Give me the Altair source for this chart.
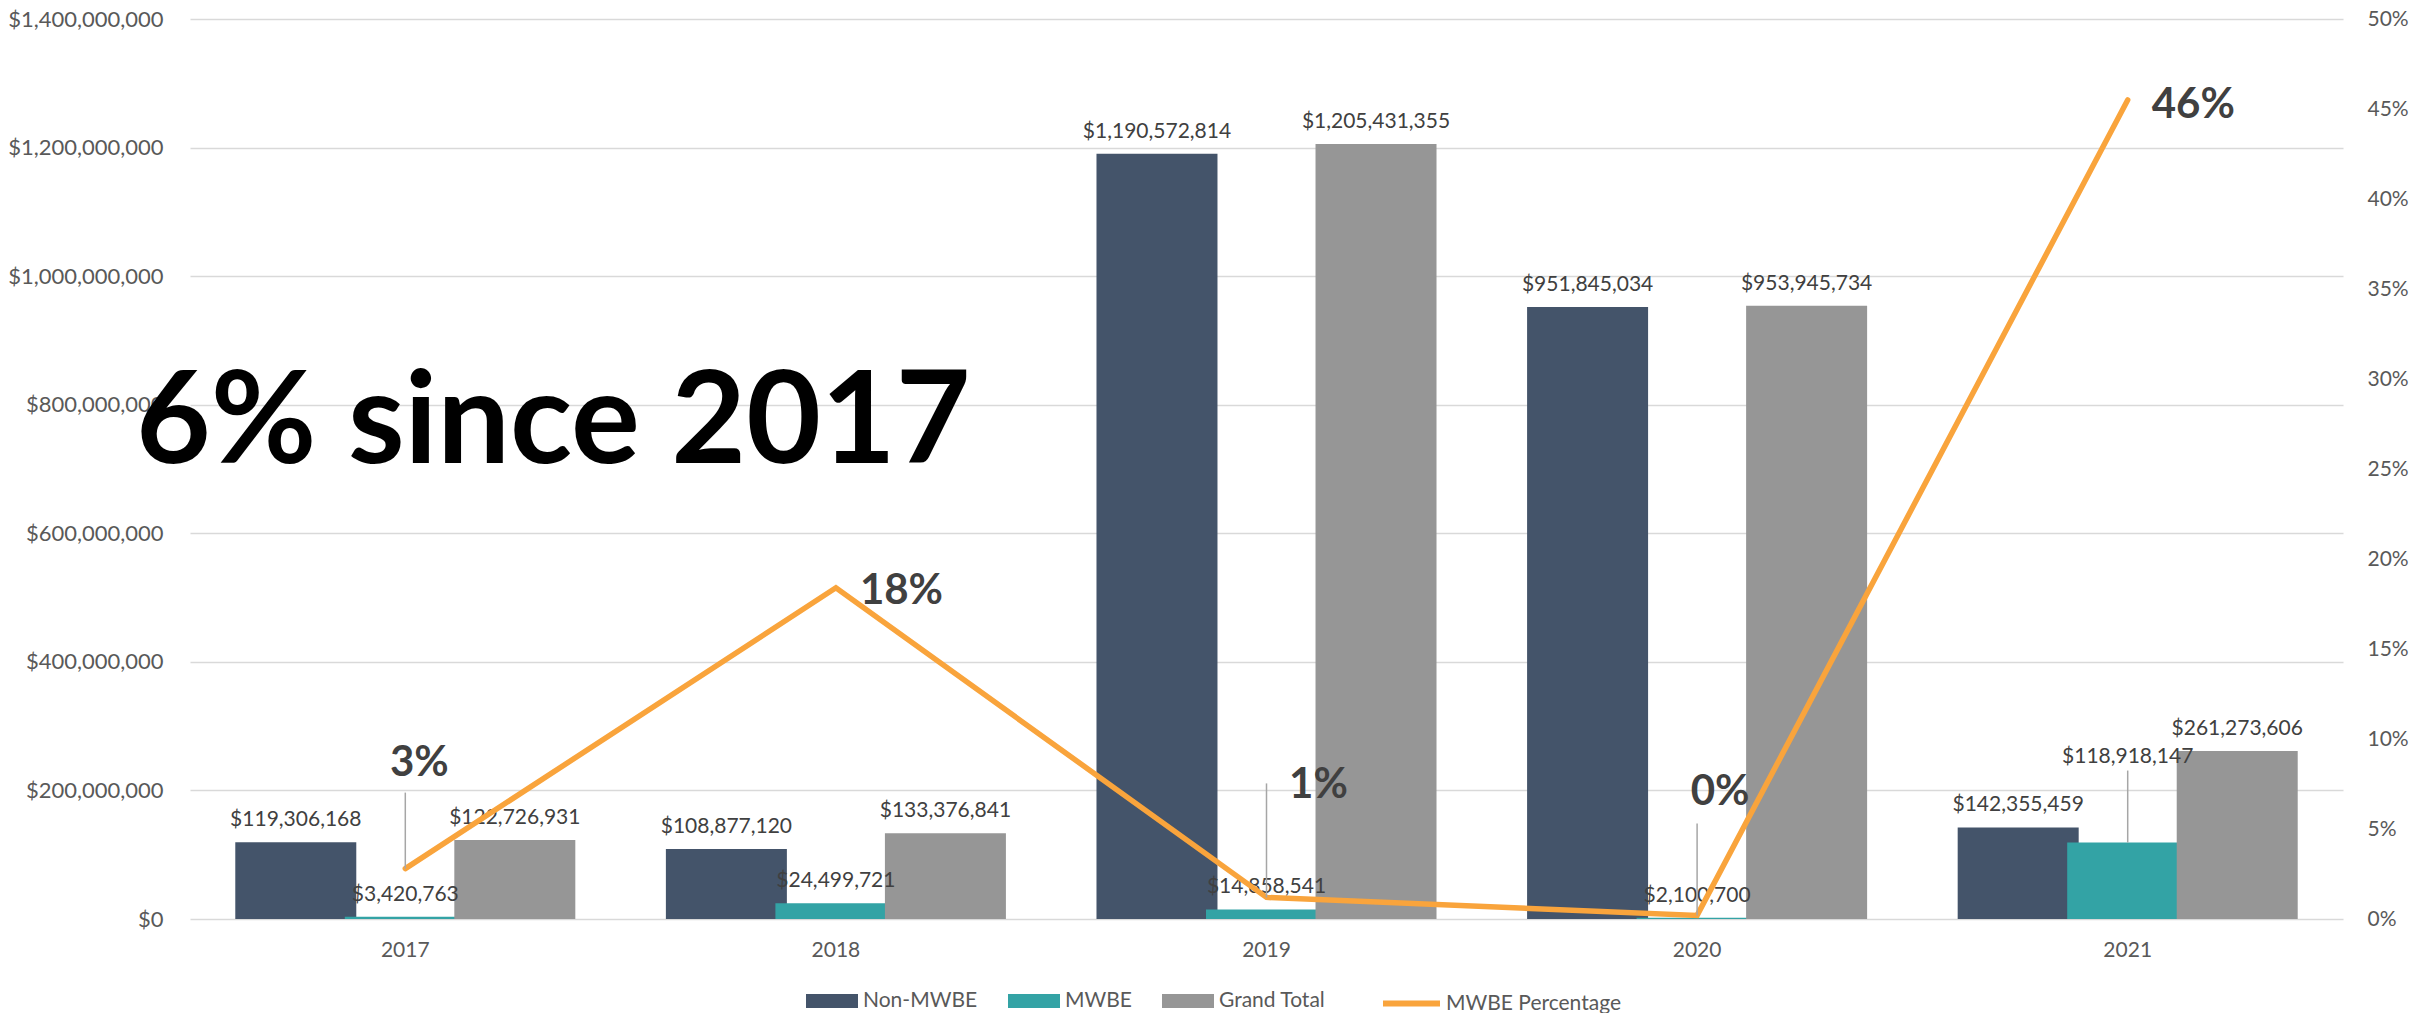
import altair as alt
import pandas as pd

# ---- data ----
years = ["2017", "2018", "2019", "2020", "2021"]
series = ["Non-MWBE", "MWBE", "Grand Total"]
non_mwbe = [119306168, 108877120, 1190572814, 951845034, 142355459]
mwbe = [3420763, 24499721, 14858541, 2100700, 118918147]
grand_total = [122726931, 133376841, 1205431355, 953945734, 261273606]
mwbe_pct = [0.028, 0.184, 0.012, 0.002, 0.455]
pct_labels = ["3%", "18%", "1%", "0%", "46%"]
line_name = "MWBE Percentage"
headline = "6% since 2017"
left_ticks = [0, 200000000, 400000000, 600000000, 800000000, 1000000000, 1200000000, 1400000000]
right_ticks = [0, 0.05, 0.10, 0.15, 0.20, 0.25, 0.30, 0.35, 0.40, 0.45, 0.50]

# ---- styles ----
colors = ["#44546A", "#33A3A5", "#969696"]
line_color = "#F9A43C"
FONT = "Lato"
W, H = 2153, 900
PX_PCT = 0.5 / H          # one pixel in right-axis units
PX_VAL = 1.4e9 / H        # one pixel in left-axis units

bars_df = pd.DataFrame(
    [
        {"year": y, "series": s, "value": v, "label": f"${v:,}"}
        for s, vals in zip(series, [non_mwbe, mwbe, grand_total])
        for y, v in zip(years, vals)
    ]
)
pct_df = pd.DataFrame({"year": years, "pct": mwbe_pct, "label": pct_labels, "name": line_name})

x_enc = alt.X(
    "year:N",
    sort=years,
    scale=alt.Scale(paddingInner=0.237, paddingOuter=0.1185),
    axis=alt.Axis(
        title=None, labelAngle=0, domain=False, ticks=False, labelFontSize=21,
        labelColor="#595959", labelPadding=20, labelFont=FONT,
    ),
)
xoff = alt.XOffset("series:N", sort=series, scale=alt.Scale(domain=series, paddingInner=0, paddingOuter=0))
y_left = alt.Y(
    "value:Q",
    scale=alt.Scale(domain=[0, 1.4e9], nice=False),
    axis=alt.Axis(
        title=None, format="$,.0f", values=left_ticks, domain=False, ticks=False,
        labelFont=FONT, labelFontSize=22, labelColor="#595959", labelPadding=27,
        gridColor="#D9D9D9", gridWidth=1.5,
    ),
)
y_right = alt.Y(
    "pct:Q",
    scale=alt.Scale(domain=[0, 0.5], nice=False),
    axis=alt.Axis(
        title=None, orient="right", format=".0%", values=right_ticks, domain=False, ticks=False,
        grid=False, labelFont=FONT, labelFontSize=21, labelColor="#595959", labelPadding=24,
    ),
)

base = alt.Chart(bars_df)
bars = base.mark_bar(width=121).encode(
    x=x_enc,
    xOffset=xoff,
    y=y_left,
    color=alt.Color(
        "series:N",
        sort=series,
        scale=alt.Scale(domain=series, range=colors),
        legend=alt.Legend(
            title=None, orient="none", legendX=616, legendY=956, direction="horizontal",
            symbolType="M-1,-0.27H1V0.27H-1Z", symbolSize=2704, symbolStrokeWidth=0,
            labelFont=FONT, labelFontSize=21, labelColor="#595959", labelOffset=5,
            columnPadding=30, padding=0, labelLimit=300,
        ),
    ),
)
bar_labels = (
    base.transform_filter("datum.series != 'MWBE' || datum.year != '2021'")
    .mark_text(font=FONT, fontSize=21, color="#404040", baseline="alphabetic", dy=-16)
    .encode(x=x_enc, xOffset=xoff, y=y_left, text="label:N")
)
raised_label = (
    base.transform_filter("datum.series == 'MWBE' && datum.year == '2021'")
    .mark_text(font=FONT, fontSize=21, color="#404040", baseline="alphabetic", dy=-80)
    .encode(x=x_enc, xOffset=xoff, y=y_left, text="label:N")
)
raised_leader = (
    base.transform_filter("datum.series == 'MWBE' && datum.year == '2021'")
    .transform_calculate(top=f"datum.value + {72 * PX_VAL}")
    .mark_rule(color="#A6A6A6", strokeWidth=1.5)
    .encode(x=x_enc, xOffset=xoff, y=y_left, y2=alt.Y2("top:Q"))
)
left_group = alt.layer(bars, bar_labels, raised_leader, raised_label)

pbase = alt.Chart(pct_df)
line = pbase.mark_line(strokeWidth=5.5, strokeJoin="miter", strokeCap="round").encode(
    x=x_enc,
    y=y_right,
    stroke=alt.Stroke(
        "name:N",
        scale=alt.Scale(domain=[line_name], range=[line_color]),
        legend=alt.Legend(
            title=None, orient="none", legendX=1190, legendY=953, direction="horizontal",
            symbolType="stroke", symbolSize=3249, symbolStrokeWidth=6,
            labelFont=FONT, labelFontSize=21, labelColor="#595959", labelOffset=3,
            padding=0, labelLimit=300,
        ),
    ),
)

# label placement per year: (dx, dy, align, leader length in px or 0)
pct_label_style = {
    "2017": (14, -93, "center", 76),
    "2018": (24, 16, "left", 0),
    "2019": (52, -99, "center", 114),
    "2020": (23, -110, "center", 92),
    "2021": (24, 18, "left", 0),
}
pct_layers = []
for yr, (dx, dy, align, lead) in pct_label_style.items():
    if lead:
        pct_layers.append(
            pbase.transform_filter(f"datum.year == '{yr}'")
            .transform_calculate(top=f"datum.pct + {lead * PX_PCT}")
            .mark_rule(color="#A6A6A6", strokeWidth=1.5)
            .encode(x=x_enc, y=y_right, y2=alt.Y2("top:Q"))
        )
    pct_layers.append(
        pbase.transform_filter(f"datum.year == '{yr}'")
        .mark_text(font=FONT, fontSize=42, fontWeight="bold", color="#404040",
                   baseline="alphabetic", align=align, dx=dx, dy=dy)
        .encode(x=x_enc, y=y_right, text="label:N")
    )
right_group = alt.layer(line, *pct_layers)

big = alt.Chart(pd.DataFrame({"t": [headline]})).mark_text(
    font=FONT, fontSize=129, fontWeight="bold", color="#000000", align="left", baseline="alphabetic"
).encode(x=alt.value(-54), y=alt.value(444), text="t:N")

chart = (
    alt.layer(left_group, right_group, big)
    .resolve_scale(y="independent")
    .properties(
        width=W,
        height=H,
        autosize=alt.AutoSizeParams(type="none"),
        padding={"left": 182, "top": 11, "right": 80, "bottom": 94},
    )
    .configure_view(stroke=None)
)

chart.save("out.html", embed_options={"renderer": "svg", "actions": False})
